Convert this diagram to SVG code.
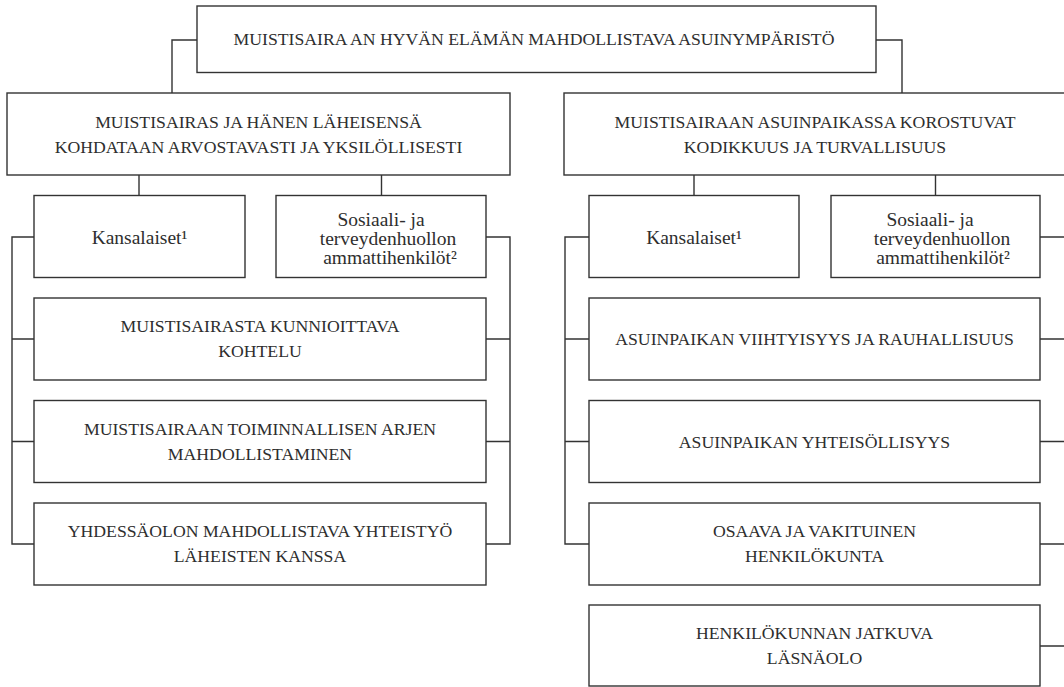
<svg xmlns="http://www.w3.org/2000/svg" width="1064" height="687" viewBox="0 0 1064 687">
<style>
.box{fill:#fff;stroke:#333;stroke-width:1.4}
.con{fill:none;stroke:#333;stroke-width:1.4}
text{font-family:"Liberation Serif","Times New Roman",serif;font-size:17.7px;fill:#2e2e2e;text-anchor:middle}
text.lc{font-size:19.5px}
</style>
<rect width="1064" height="687" fill="#fff"/>
<g id="connectors">
<path class="con" d="M197,40 H172 V93"/>
<path class="con" d="M876,40 H902 V93"/>
<path class="con" d="M139,175 V195.5 M381.5,175 V195.5"/>
<path class="con" d="M694,175 V195.5 M935.5,175 V195.5"/>
<path class="con" d="M34,237 H12 V544 H34 M12,339 H34 M12,441.5 H34"/>
<path class="con" d="M486,237 H510 V544 H486 M510,339 H486 M510,441.5 H486"/>
<path class="con" d="M589,237 H565 V544 H589 M565,339 H589 M565,441.5 H589"/>
<path class="con" d="M1040,237 H1066 V646 H1040 M1066,339 H1040 M1066,441.5 H1040 M1066,544 H1040"/>
</g>
<g id="top">
<rect class="box" x="197" y="6" width="679" height="66.5"/>
<text x="534" y="45">MUISTISAIRA AN HYVÄN ELÄMÄN MAHDOLLISTAVA ASUINYMPÄRISTÖ</text>
</g>
<g id="left-head">
<rect class="box" x="7" y="93" width="503" height="82"/>
<text x="258.5" y="128">MUISTISAIRAS JA HÄNEN LÄHEISENSÄ</text>
<text x="258.5" y="153">KOHDATAAN ARVOSTAVASTI JA YKSILÖLLISESTI</text>
</g>
<g id="right-head">
<rect class="box" x="564" y="93" width="510" height="82"/>
<text x="815" y="128">MUISTISAIRAAN ASUINPAIKASSA KOROSTUVAT</text>
<text x="815" y="153">KODIKKUUS JA TURVALLISUUS</text>
</g>
<g id="left-kansalaiset">
<rect class="box" x="34" y="195.5" width="211" height="82"/>
<text class="lc" x="139.5" y="244">Kansalaiset¹</text>
</g>
<g id="left-ammatti">
<rect class="box" x="276" y="195.5" width="210" height="82"/>
<text class="lc" x="381" y="226">Sosiaali- ja</text>
<text class="lc" x="388" y="245">terveydenhuollon</text>
<text class="lc" x="390" y="264">ammattihenkilöt²</text>
</g>
<g id="right-kansalaiset">
<rect class="box" x="589" y="195.5" width="210" height="82"/>
<text class="lc" x="694" y="244">Kansalaiset¹</text>
</g>
<g id="right-ammatti">
<rect class="box" x="831" y="195.5" width="209" height="82"/>
<text class="lc" x="930" y="226">Sosiaali- ja</text>
<text class="lc" x="942" y="245">terveydenhuollon</text>
<text class="lc" x="943" y="264">ammattihenkilöt²</text>
</g>
<g id="left-1">
<rect class="box" x="34" y="298" width="452" height="82"/>
<text x="260" y="332">MUISTISAIRASTA KUNNIOITTAVA</text>
<text x="260" y="357">KOHTELU</text>
</g>
<g id="left-2">
<rect class="box" x="34" y="400.5" width="452" height="82"/>
<text x="260" y="435">MUISTISAIRAAN TOIMINNALLISEN ARJEN</text>
<text x="260" y="460">MAHDOLLISTAMINEN</text>
</g>
<g id="left-3">
<rect class="box" x="34" y="503" width="452" height="82"/>
<text x="260" y="537">YHDESSÄOLON MAHDOLLISTAVA YHTEISTYÖ</text>
<text x="260" y="562">LÄHEISTEN KANSSA</text>
</g>
<g id="right-1">
<rect class="box" x="589" y="298" width="451" height="82"/>
<text x="814.5" y="345">ASUINPAIKAN VIIHTYISYYS JA RAUHALLISUUS</text>
</g>
<g id="right-2">
<rect class="box" x="589" y="400.5" width="451" height="82"/>
<text x="814.5" y="447.5">ASUINPAIKAN YHTEISÖLLISYYS</text>
</g>
<g id="right-3">
<rect class="box" x="589" y="503" width="451" height="82"/>
<text x="814.5" y="537">OSAAVA JA VAKITUINEN</text>
<text x="814.5" y="562">HENKILÖKUNTA</text>
</g>
<g id="right-4">
<rect class="box" x="589" y="605" width="451" height="81"/>
<text x="814.5" y="639">HENKILÖKUNNAN JATKUVA</text>
<text x="814.5" y="664">LÄSNÄOLO</text>
</g>
</svg>
